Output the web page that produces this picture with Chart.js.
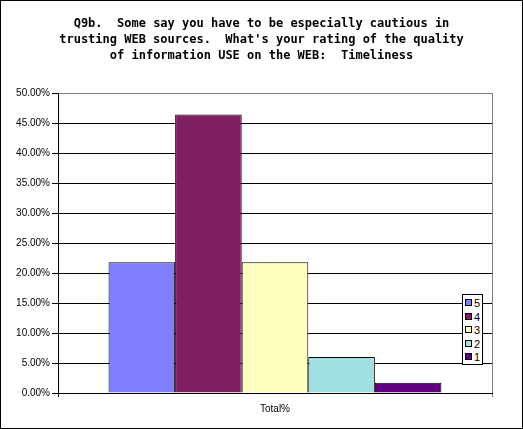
<!DOCTYPE html>
<html lang="en">
<head>
    <meta charset="UTF-8">
    <title>Q9b Timeliness</title>
    <script src="https://cdn.jsdelivr.net/npm/chart.js"></script>
    <style>
        body { margin: 0; background: #fff; }
        #wrap { position: relative; width: 521px; height: 427px; border: 1px solid #000; }
        #titulo {
            position: absolute; left: 0; top: 14px; width: 521px; text-align: center;
            font: bold 12px/16px "DejaVu Sans Mono", monospace; color: #000; white-space: pre;
        }
        #legend {
            position: absolute; left: 461px; top: 293px; width: 19px; height: 67px;
            border: 1px solid #000; background: #fff;
            font: 11px "Liberation Sans", Arial, sans-serif; color: #000;
            padding-top: 2px; box-sizing: content-box;
        }
        #legend div { height: 13.6px; line-height: 13.6px; white-space: nowrap; }
        #legend span {
            display: inline-block; width: 5px; height: 5px; border: 1px solid #000;
            margin: 0 2px 0 2px; vertical-align: 1px;
        }
    </style>
</head>
<body>
    <div id="wrap">
        <canvas id="chart" width="521" height="427"></canvas>
        <div id="titulo"></div>
        <div id="legend"></div>
    </div>

    <script>
    // dados
    const categorias = ['Total%'];
    const series = ['5', '4', '3', '2', '1'];
    const valores = [21.8, 46.4, 21.8, 6.0, 1.7];
    const cores = ['#8080FF', '#802060', '#FFFFC0', '#A0E0E0', '#600080'];
    const tituloLinhas = [
        'Q9b.  Some say you have to be especially cautious in',
        'trusting WEB sources.  What\'s your rating of the quality',
        'of information USE on the WEB:  Timeliness'
    ];

    // título centrado na página inteira (não só na área do gráfico)
    document.getElementById('titulo').textContent = tituloLinhas.join('\n');

    const ctx = document.getElementById('chart').getContext('2d');
    new Chart(ctx, {
        type: 'bar',
        data: {
            labels: categorias,
            datasets: series.map((s, i) => ({
                label: s,
                data: [valores[i]],
                backgroundColor: cores[i],
                borderColor: '#000',
                borderWidth: 1,
                barPercentage: 1,
                categoryPercentage: 0.767
            }))
        },
        options: {
            responsive: false,
            animation: false,
            layout: { padding: { left: 0, right: 30, top: 92, bottom: 0 } },
            plugins: {
                legend: { display: false },
                tooltip: { enabled: false },
                title: { display: false }
            },
            scales: {
                x: {
                    grid: {
                        offset: true,
                        color: c => c.index === 0 ? '#000' : '#808080',
                        tickLength: 4
                    },
                    border: { color: '#000' },
                    ticks: {
                        color: '#000',
                        padding: 6,
                        font: { family: '"Liberation Sans"', size: 10 }
                    },
                    afterFit: s => { s.height = 35; }
                },
                y: {
                    min: 0,
                    max: 50,
                    grid: {
                        color: c => c.tick && c.tick.value === 50 ? '#808080' : '#000',
                        tickColor: '#000',
                        tickLength: 6
                    },
                    border: { color: '#000' },
                    ticks: {
                        stepSize: 5,
                        color: '#000',
                        padding: 2,
                        font: { family: '"Liberation Sans"', size: 10 },
                        callback: v => v.toFixed(2) + '%'
                    },
                    afterFit: s => { s.width = 57; }
                }
            }
        }
    });

    // legenda (ordem 5..1, como no original)
    const leg = document.getElementById('legend');
    series.forEach((s, i) => {
        const row = document.createElement('div');
        const sw = document.createElement('span');
        sw.style.background = cores[i];
        row.appendChild(sw);
        row.appendChild(document.createTextNode(s));
        leg.appendChild(row);
    });
    </script>
</body>
</html>
